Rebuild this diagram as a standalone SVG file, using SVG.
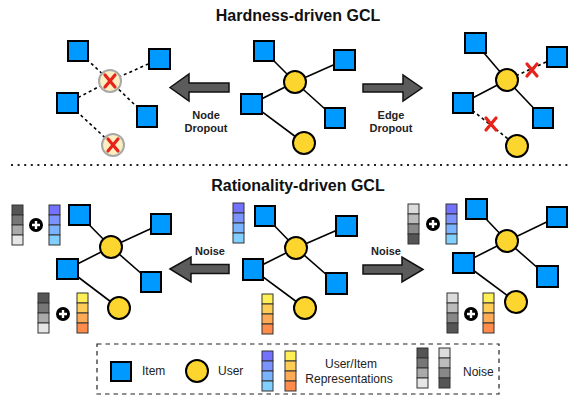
<svg xmlns="http://www.w3.org/2000/svg" xmlns:xlink="http://www.w3.org/1999/xlink" width="581" height="398" viewBox="0 0 581 398">
<style>
.item{fill:#0099ff;stroke:#000;stroke-width:2}
.user{fill:#fdd52f;stroke:#000;stroke-width:2}
.drop{fill:#fbeec0;stroke:#a8a8a8;stroke-width:2}
.edge{stroke:#000;stroke-width:1.6;fill:none}
.dash{stroke-dasharray:3 3}
.x{stroke:#e8231a;stroke-width:3.2;stroke-linecap:round;fill:none}
.arrow{fill:#5b5b5b;stroke:#111;stroke-width:1.5}
.cell{stroke:#333;stroke-width:1}
.title{font-family:"Liberation Sans",Arial,sans-serif;font-weight:bold;font-size:16px;fill:#111;text-anchor:middle}
.lab{font-family:"Liberation Sans",Arial,sans-serif;font-weight:bold;font-size:11px;fill:#222;text-anchor:middle}
.leg{font-family:"Liberation Sans",Arial,sans-serif;font-size:12px;fill:#222}
</style>
<defs>
<g id="barBlue">
<rect class="cell" x="0" y="0" width="11" height="10" fill="#7272ff"/>
<rect class="cell" x="0" y="10" width="11" height="10" fill="#7b93ff"/>
<rect class="cell" x="0" y="20" width="11" height="10" fill="#7ab3ff"/>
<rect class="cell" x="0" y="30" width="11" height="10" fill="#80cfff"/>
</g>
<g id="barYellow">
<rect class="cell" x="0" y="0" width="11" height="10" fill="#ffee55"/>
<rect class="cell" x="0" y="10" width="11" height="10" fill="#ffcc55"/>
<rect class="cell" x="0" y="20" width="11" height="10" fill="#ffaa55"/>
<rect class="cell" x="0" y="30" width="11" height="10" fill="#ff8c4a"/>
</g>
<g id="barGrayA">
<rect class="cell" x="0" y="0" width="11" height="10" fill="#555"/>
<rect class="cell" x="0" y="10" width="11" height="10" fill="#777"/>
<rect class="cell" x="0" y="20" width="11" height="10" fill="#aaa"/>
<rect class="cell" x="0" y="30" width="11" height="10" fill="#e6e6e6"/>
</g>
<g id="barGrayB">
<rect class="cell" x="0" y="0" width="11" height="10" fill="#dcdcdc"/>
<rect class="cell" x="0" y="10" width="11" height="10" fill="#bbb"/>
<rect class="cell" x="0" y="20" width="11" height="10" fill="#888"/>
<rect class="cell" x="0" y="30" width="11" height="10" fill="#555"/>
</g>
<g id="plus">
<circle cx="0" cy="0" r="7" fill="#000"/>
<path d="M-4 0H4M0 -4V4" stroke="#fff" stroke-width="2.4"/>
</g>
<g id="xmark">
<path class="x" d="M-5 -6L5 6M5 -6L-5 6"/>
</g>
</defs>

<!-- titles and separators -->
<text class="title" x="298" y="21">Hardness-driven GCL</text>
<text class="title" x="298" y="191">Rationality-driven GCL</text>
<line x1="11" y1="165" x2="572" y2="165" stroke="#222" stroke-width="2" stroke-dasharray="2 4.6"/>

<!-- connectors -->
<g id="connectors">
<!-- top left (node dropout) -->
<g class="edge dash">
<line x1="78" y1="51" x2="110" y2="81"/>
<line x1="159.5" y1="59" x2="110" y2="81"/>
<line x1="67.5" y1="103" x2="110" y2="81"/>
<line x1="147" y1="116.5" x2="110" y2="81"/>
<line x1="67.5" y1="103" x2="113" y2="145"/>
</g>
<!-- top center -->
<g class="edge">
<line x1="264" y1="51" x2="295" y2="82"/>
<line x1="344.5" y1="60" x2="295" y2="82"/>
<line x1="251.5" y1="104" x2="295" y2="82"/>
<line x1="335" y1="118" x2="295" y2="82"/>
<line x1="251.5" y1="104" x2="304" y2="143"/>
</g>
<!-- top right (edge dropout) -->
<g class="edge">
<line x1="475.5" y1="43" x2="507" y2="80"/>
<line x1="463" y1="103" x2="507" y2="80"/>
<line x1="543" y1="118" x2="507" y2="80"/>
</g>
<g class="edge dash">
<line x1="557" y1="57" x2="507" y2="80"/>
<line x1="463" y1="103" x2="517" y2="146"/>
</g>
<!-- bottom left -->
<g class="edge">
<line x1="79.5" y1="215" x2="111" y2="247"/>
<line x1="161" y1="224" x2="111" y2="247"/>
<line x1="67.5" y1="269" x2="111" y2="247"/>
<line x1="151" y1="282" x2="111" y2="247"/>
<line x1="67.5" y1="269" x2="119" y2="308"/>
</g>
<!-- bottom center -->
<g class="edge">
<line x1="265" y1="216" x2="296" y2="248"/>
<line x1="346.5" y1="226" x2="296" y2="248"/>
<line x1="253" y1="269.5" x2="296" y2="248"/>
<line x1="336.5" y1="283.5" x2="296" y2="248"/>
<line x1="253" y1="269.5" x2="305" y2="308"/>
</g>
<!-- bottom right -->
<g class="edge">
<line x1="476.5" y1="209" x2="507" y2="241"/>
<line x1="557" y1="217" x2="507" y2="241"/>
<line x1="463.5" y1="263" x2="507" y2="241"/>
<line x1="547.5" y1="276.5" x2="507" y2="241"/>
<line x1="463.5" y1="263" x2="516" y2="302"/>
</g>
</g>

<!-- arrows -->
<g id="arrow-node-dropout">
<polygon class="arrow" points="170,87.5 189,74 189,83 229,83 229,92 189,92 189,101"/>
<text class="lab" x="206" y="119">Node</text>
<text class="lab" x="206" y="132">Dropout</text>
</g>
<g id="arrow-edge-dropout">
<polygon class="arrow" points="422,88 403,75 403,84 363,84 363,92 403,92 403,101"/>
<text class="lab" x="391" y="119">Edge</text>
<text class="lab" x="391" y="132">Dropout</text>
</g>
<g id="arrow-noise-left">
<polygon class="arrow" points="170,269 191,257 191,264.5 229,264.5 229,273.5 191,273.5 191,282"/>
<text class="lab" x="210" y="255">Noise</text>
</g>
<g id="arrow-noise-right">
<polygon class="arrow" points="423,269.5 402,257 402,265 363,265 363,274 402,274 402,282"/>
<text class="lab" x="386" y="255">Noise</text>
</g>

<!-- top left graph -->
<g id="tl-item1"><rect class="item" x="68" y="41" width="20" height="20"/></g>
<g id="tl-item2"><rect class="item" x="149" y="49" width="21" height="20"/></g>
<g id="tl-item3"><rect class="item" x="57" y="93" width="21" height="20"/></g>
<g id="tl-item4"><rect class="item" x="137" y="106" width="20" height="21"/></g>
<g id="tl-user1"><circle class="drop" cx="110" cy="81" r="11"/><use href="#xmark" x="110" y="81"/></g>
<g id="tl-user2"><circle class="drop" cx="113" cy="145" r="11"/><use href="#xmark" x="113" y="145"/></g>

<!-- top center graph -->
<g id="tc-item1"><rect class="item" x="254" y="41" width="20" height="20"/></g>
<g id="tc-item2"><rect class="item" x="334" y="50" width="21" height="20"/></g>
<g id="tc-item3"><rect class="item" x="241" y="94" width="21" height="20"/></g>
<g id="tc-item4"><rect class="item" x="325" y="108" width="20" height="20"/></g>
<g id="tc-user1"><circle class="user" cx="295" cy="82" r="11"/></g>
<g id="tc-user2"><circle class="user" cx="304" cy="143" r="11"/></g>

<!-- top right graph -->
<g id="tr-item1"><rect class="item" x="465" y="33" width="21" height="20"/></g>
<g id="tr-item2"><rect class="item" x="547" y="47" width="20" height="20"/></g>
<g id="tr-item3"><rect class="item" x="453" y="93" width="20" height="20"/></g>
<g id="tr-item4"><rect class="item" x="533" y="108" width="20" height="20"/></g>
<g id="tr-user1"><circle class="user" cx="507" cy="80" r="11"/></g>
<g id="tr-user2"><circle class="user" cx="517" cy="146" r="11"/></g>
<g id="tr-cut1"><use href="#xmark" x="532" y="70"/></g>
<g id="tr-cut2"><use href="#xmark" x="491" y="124"/></g>

<!-- bottom left graph -->
<g id="bl-item1"><rect class="item" x="69" y="205" width="21" height="20"/></g>
<g id="bl-item2"><rect class="item" x="151" y="214" width="20" height="20"/></g>
<g id="bl-item3"><rect class="item" x="57" y="259" width="21" height="20"/></g>
<g id="bl-item4"><rect class="item" x="141" y="272" width="20" height="20"/></g>
<g id="bl-user1"><circle class="user" cx="111" cy="247" r="11"/></g>
<g id="bl-user2"><circle class="user" cx="119" cy="308" r="11"/></g>
<g id="bl-rep1"><use href="#barGrayA" x="12" y="205"/><use href="#plus" x="36" y="225"/><use href="#barBlue" x="49" y="205"/></g>
<g id="bl-rep2"><use href="#barGrayA" x="38" y="293"/><use href="#plus" x="63" y="314"/><use href="#barYellow" x="77" y="293"/></g>

<!-- bottom center graph -->
<g id="bc-item1"><rect class="item" x="255" y="206" width="20" height="20"/></g>
<g id="bc-item2"><rect class="item" x="336" y="216" width="21" height="20"/></g>
<g id="bc-item3"><rect class="item" x="243" y="259" width="20" height="21"/></g>
<g id="bc-item4"><rect class="item" x="326" y="273" width="21" height="21"/></g>
<g id="bc-user1"><circle class="user" cx="296" cy="248" r="11"/></g>
<g id="bc-user2"><circle class="user" cx="305" cy="308" r="11"/></g>
<g id="bc-rep1"><use href="#barBlue" x="233" y="203"/></g>
<g id="bc-rep2"><use href="#barYellow" x="262" y="294"/></g>

<!-- bottom right graph -->
<g id="br-item1"><rect class="item" x="466" y="199" width="21" height="20"/></g>
<g id="br-item2"><rect class="item" x="547" y="207" width="20" height="20"/></g>
<g id="br-item3"><rect class="item" x="453" y="253" width="21" height="20"/></g>
<g id="br-item4"><rect class="item" x="537" y="266" width="21" height="21"/></g>
<g id="br-user1"><circle class="user" cx="507" cy="241" r="11"/></g>
<g id="br-user2"><circle class="user" cx="516" cy="302" r="11"/></g>
<g id="br-rep1"><use href="#barGrayB" x="408" y="204"/><use href="#plus" x="433" y="224"/><use href="#barBlue" x="446" y="204"/></g>
<g id="br-rep2"><use href="#barGrayB" x="447" y="293"/><use href="#plus" x="471" y="314"/><use href="#barYellow" x="483" y="293"/></g>

<!-- legend -->
<g id="legend">
<rect x="97" y="344" width="402" height="50" fill="none" stroke="#222" stroke-width="1.2" stroke-dasharray="4.5 4"/>
<rect class="item" x="111" y="362" width="20" height="19"/>
<text class="leg" x="142" y="375">Item</text>
<circle class="user" cx="197" cy="371" r="11"/>
<text class="leg" x="218" y="375">User</text>
<use href="#barBlue" x="262" y="351"/>
<use href="#barYellow" x="285" y="351"/>
<text class="leg" x="351" y="368" text-anchor="middle">User/Item</text>
<text class="leg" x="349" y="383" text-anchor="middle">Representations</text>
<use href="#barGrayA" x="417" y="348"/>
<use href="#barGrayB" x="439" y="348"/>
<text class="leg" x="463" y="376">Noise</text>
</g>
</svg>
